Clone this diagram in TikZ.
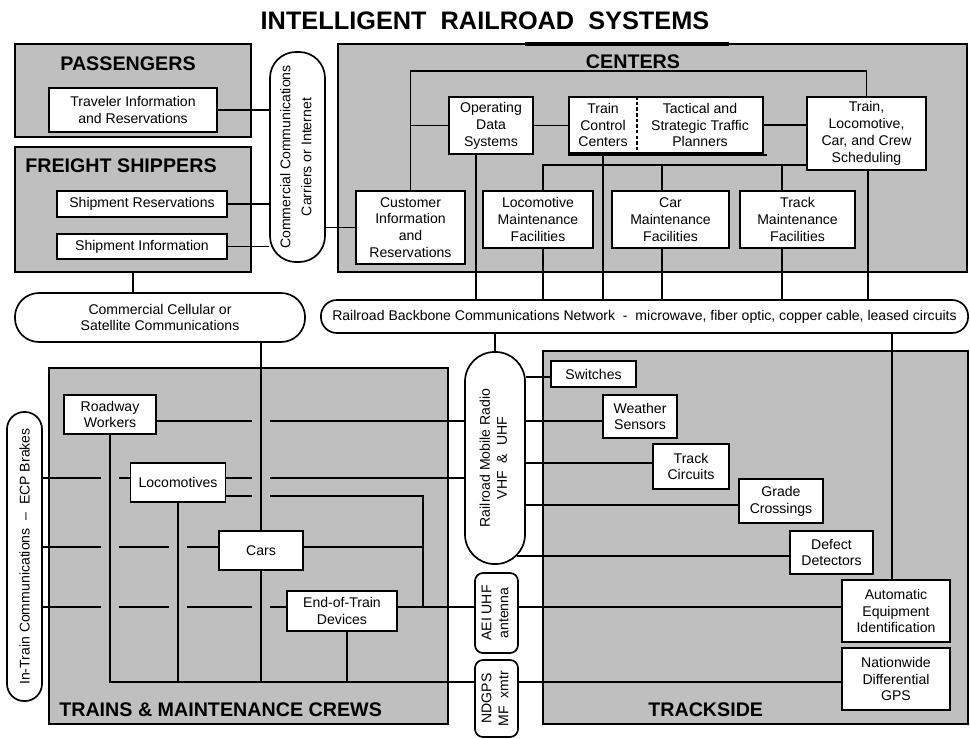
\documentclass[tikz,border=0pt]{standalone}
\usepackage{fontspec}
\setmainfont{Liberation Sans}
\usepackage{graphicx}

\begin{document}
\begin{tikzpicture}[x=0.025cm, y=-0.025cm]
    % Define styles
    \tikzstyle{region} = [rectangle, draw=black, fill=black!25, line width=1.2pt]
    \tikzstyle{hdr} = [inner sep=0pt, font=\fontsize{14}{16}\selectfont\bfseries]
    \tikzstyle{unit} = [rectangle, draw=black, fill=white, line width=1.2pt, align=center, inner sep=1pt, font=\fontsize{10}{12}\selectfont]
    \tikzstyle{txt} = [align=center, inner sep=1pt, font=\fontsize{10}{12}\selectfont]
    \tikzstyle{net} = [draw=black, fill=white, line width=1.2pt, align=center, inner sep=1pt, font=\fontsize{10}{12}\selectfont]
    \tikzstyle{link} = [line width=1.2pt]

    \useasboundingbox (0,0) rectangle (970,738);

    % Title
    \node[font=\fontsize{18}{21}\selectfont\bfseries] (title) at (485,21) {INTELLIGENT\ \ RAILROAD\ \ SYSTEMS};

    % Regions
    \node[region, minimum width=5.9cm, minimum height=2.325cm] (passengers) at (133,90.5) {};
    \node[region, minimum width=5.9cm, minimum height=3.125cm] (freight) at (133,209.5) {};
    \node[region, minimum width=15.725cm, minimum height=5.7cm] (centers) at (652.5,158) {};
    \node[region, minimum width=9.975cm, minimum height=8.9cm] (trains) at (248.5,546) {};
    \node[region, minimum width=10.625cm, minimum height=9.325cm] (trackside) at (755.5,537.5) {};
    \draw[line width=2.4pt] (525,44) -- (729,44);

    \node[hdr, anchor=base] (passengersHdr) at (128,70) {PASSENGERS};
    \node[hdr, anchor=base] (freightHdr) at (121,172) {FREIGHT SHIPPERS};
    \node[hdr, anchor=base] (centersHdr) at (633,68) {CENTERS};
    \node[hdr, anchor=base west] (trainsHdr) at (59,716) {TRAINS \& MAINTENANCE CREWS};
    \node[hdr, anchor=base west] (tracksideHdr) at (648,716) {TRACKSIDE};

    % Passengers and freight shippers
    \node[unit, minimum width=4.2cm, minimum height=1.1cm] (traveler) at (133,110) {Traveler Information\\and Reservations};
    \node[unit, minimum width=4.25cm, minimum height=0.65cm] (shipRes) at (142,204) {Shipment Reservations};
    \node[unit, minimum width=4.25cm, minimum height=0.625cm] (shipInfo) at (142,246.5) {Shipment Information};

    % Centers
    \node[unit, minimum width=2.1cm, minimum height=1.425cm] (ods) at (491,125.5) {Operating\\Data\\Systems};
    \node[unit, minimum width=4.85cm, minimum height=1.4cm] (traffic) at (666,125) {};
    \node[txt] (tcc) at (603,125) {Train\\Control\\Centers};
    \node[txt] (planners) at (700,125) {Tactical and\\Strategic Traffic\\Planners};
    \draw[line width=1.6pt, dash pattern=on 2.5pt off 1.5pt] (traffic.north -| 637,0) -- (traffic.south -| 637,0);
    \draw[link] ([yshift=-1pt]traffic.south west) -- ([xshift=2pt, yshift=-1pt]traffic.south east);
    \node[unit, minimum width=2.975cm, minimum height=1.825cm] (sched) at (866.5,133.5) {Train,\\Locomotive,\\Car, and Crew\\Scheduling};
    \node[unit, minimum width=2.725cm, minimum height=1.825cm] (cust) at (410.5,227.5) {Customer\\Information\\and\\Reservations};
    \node[unit, minimum width=2.75cm, minimum height=1.425cm] (locoMaint) at (538,219.5) {Locomotive\\Maintenance\\Facilities};
    \node[unit, minimum width=2.925cm, minimum height=1.425cm] (carMaint) at (670.5,219.5) {Car\\Maintenance\\Facilities};
    \node[unit, minimum width=2.875cm, minimum height=1.425cm] (trackMaint) at (797.5,219.5) {Track\\Maintenance\\Facilities};

    % Communications
    \node[net, rounded corners=0.65cm, minimum width=1.375cm, minimum height=5.25cm] (carriers) at (297.5,157) {\rotatebox{90}{\begin{tabular}{@{}c@{}}Commercial Communications\\[3pt]Carriers or Internet\end{tabular}}};
    \node[net, rounded corners=0.6cm, minimum width=7.25cm, minimum height=1.225cm] (cellular) at (160,317.5) {Commercial Cellular or\\Satellite Communications};
    \node[net, rounded corners=0.4cm, minimum width=16.175cm, minimum height=0.825cm] (backbone) at (644.5,316.5) {Railroad Backbone Communications Network ~-~ microwave, fiber optic, copper cable, leased circuits};
    \node[net, rounded corners=0.74cm, minimum width=1.5cm, minimum height=5.3cm] (radio) at (495,458) {\rotatebox{90}{\begin{tabular}{@{}c@{}}Railroad Mobile Radio\\VHF ~\&~ UHF\end{tabular}}};
    \node[net, rounded corners=0.2cm, minimum width=1.075cm, minimum height=2cm] (aeiAnt) at (496.5,613) {\rotatebox{90}{\begin{tabular}{@{}c@{}}AEI UHF\\antenna\end{tabular}}};
    \node[net, rounded corners=0.2cm, minimum width=1.075cm, minimum height=1.925cm] (ndAnt) at (496.5,698.5) {\rotatebox{90}{\begin{tabular}{@{}c@{}}NDGPS\\MF ~xmtr\end{tabular}}};
    \node[net, rounded corners=0.43cm, minimum width=0.875cm, minimum height=7.225cm] (inTrain) at (24.5,556.5) {\rotatebox{90}{In-Train Communications ~–~ ECP Brakes}};

    % Trains and maintenance crews
    \node[unit, minimum width=2.3cm, minimum height=0.975cm] (roadway) at (110,414.5) {Roadway\\Workers};
    \node[unit, minimum width=2.375cm, minimum height=0.975cm] (loco) at (178,482.5) {Locomotives};
    \node[unit, minimum width=2.1cm, minimum height=0.975cm] (cars) at (261,550.5) {Cars};
    \node[unit, minimum width=2.75cm, minimum height=1cm] (eot) at (342,611) {End-of-Train\\Devices};

    % Trackside
    \node[unit, minimum width=2.125cm, minimum height=0.65cm] (switches) at (593.5,374) {Switches};
    \node[unit, minimum width=1.85cm, minimum height=1.075cm] (weather) at (640,416.5) {Weather\\Sensors};
    \node[unit, minimum width=1.9cm, minimum height=1.125cm] (trackCirc) at (691,466.5) {Track\\Circuits};
    \node[unit, minimum width=2.1cm, minimum height=1.1cm] (grade) at (781,501) {Grade\\Crossings};
    \node[unit, minimum width=2.075cm, minimum height=1.075cm] (defect) at (831.5,552.5) {Defect\\Detectors};
    \node[unit, minimum width=2.7cm, minimum height=1.55cm] (aei) at (896,611) {Automatic\\Equipment\\Identification};
    \node[unit, minimum width=2.7cm, minimum height=1.55cm] (ndgps) at (896,679) {Nationwide\\Differential\\GPS};

    % Bus levels and crossing gaps
    \coordinate (busA) at (0,71);
    \coordinate (busB) at (0,165);
    \coordinate (xOds) at (476,0);
    \coordinate (xLm) at (543,0);
    \coordinate (xCm) at (662,0);
    \coordinate (xTm) at (782,0);
    \coordinate (xSch) at (868,0);
    \coordinate (xAei) at (892,0);
    \coordinate (xJoin) at (423,0);
    \coordinate (xEot) at (347,0);
    \coordinate (gapRa) at (101,0);
    \coordinate (gapRb) at (119,0);
    \coordinate (gapLa) at (169,0);
    \coordinate (gapLb) at (187,0);
    \coordinate (gapCa) at (252,0);
    \coordinate (gapCb) at (270,0);
    \coordinate (lvRoad) at (0,421);
    \coordinate (lvLocoA) at (0,478);
    \coordinate (lvLocoB) at (0,496);
    \coordinate (lvCars) at (0,547);
    \coordinate (lvEot) at (0,607);
    \coordinate (lvBus) at (0,682);
    \coordinate (lvSw) at (0,377);
    \coordinate (lvTc) at (0,463);
    \coordinate (lvGc) at (0,505);
    \coordinate (radioTail) at (517,556);

    % Passenger and shipper connections
    \draw[link] (traveler.east) -- (traveler.east -| carriers.west);
    \draw[link] (shipRes.east) -- (shipRes.east -| carriers.west);
    \draw[link] (shipInfo.east) -- (shipInfo.east -| carriers.west);
    \draw[link] (cust.west -| carriers.east) -- (cust.west);
    \draw[link] (freight.south) -- (freight.south |- cellular.north);

    % Center connections
    \draw[link] (cust.north) -- (cust.north |- busA) -- (sched.north |- busA) -- (sched.north);
    \draw[link] (ods.west) -- (ods.west -| cust.north);
    \draw[link] (ods.east) -- (ods.east -| traffic.west);
    \draw[link] (traffic.east) -- (traffic.east -| sched.west);
    \draw[link] (sched.west |- busB) -- (xLm |- busB) -- (locoMaint.north -| xLm);
    \draw[link] (xCm |- busB) -- (carMaint.north -| xCm);
    \draw[link] (xTm |- busB) -- (trackMaint.north -| xTm);

    % Down to the backbone
    \draw[link] (ods.south -| xOds) -- (backbone.north -| xOds);
    \draw[link] (locoMaint.south -| xLm) -- (backbone.north -| xLm);
    \draw[link] (traffic.south -| tcc) -- (backbone.north -| tcc);
    \draw[link] (carMaint.south -| xCm) -- (backbone.north -| xCm);
    \draw[link] (trackMaint.south -| xTm) -- (backbone.north -| xTm);
    \draw[link] (sched.south -| xSch) -- (backbone.north -| xSch);
    \draw[link] (backbone.south -| radio.north) -- (radio.north);
    \draw[link] (backbone.south -| xAei) -- (aei.north -| xAei);
    \draw[link] (cellular.south -| cars.north) -- (cars.north);

    % Train connections
    \draw[link] (roadway.east |- lvRoad) -- (gapCa |- lvRoad);
    \draw[link] (gapCb |- lvRoad) -- (radio.west |- lvRoad);
    \draw[link] (loco.east |- lvLocoA) -- (gapCa |- lvLocoA);
    \draw[link] (gapCb |- lvLocoA) -- (radio.west |- lvLocoA);
    \draw[link] (loco.east |- lvLocoB) -- (gapCa |- lvLocoB);
    \draw[link] (gapCb |- lvLocoB) -- (xJoin |- lvLocoB) -- (xJoin |- lvEot);
    \draw[link] (cars.east |- lvCars) -- (xJoin |- lvCars);
    \draw[link] (eot.east |- lvEot) -- (aeiAnt.west |- lvEot);
    \draw[link] (aeiAnt.east |- lvEot) -- (aei.west |- lvEot);

    % In-train connections
    \draw[link] (inTrain.east |- lvLocoA) -- (gapRa |- lvLocoA);
    \draw[link] (gapRb |- lvLocoA) -- (loco.west |- lvLocoA);
    \draw[link] (inTrain.east |- lvCars) -- (gapRa |- lvCars);
    \draw[link] (gapRb |- lvCars) -- (gapLa |- lvCars);
    \draw[link] (gapLb |- lvCars) -- (cars.west |- lvCars);
    \draw[link] (inTrain.east |- lvEot) -- (gapRa |- lvEot);
    \draw[link] (gapRb |- lvEot) -- (gapLa |- lvEot);
    \draw[link] (gapLb |- lvEot) -- (gapCa |- lvEot);
    \draw[link] (gapCb |- lvEot) -- (eot.west |- lvEot);

    % Bottom bus
    \draw[link] (roadway.south) -- (roadway.south |- lvBus) -- (ndAnt.west |- lvBus);
    \draw[link] (loco.south) -- (loco.south |- lvBus);
    \draw[link] (cars.south) -- (cars.south |- lvBus);
    \draw[link] (eot.south -| xEot) -- (xEot |- lvBus);
    \draw[link] (ndAnt.east |- lvBus) -- (ndgps.west |- lvBus);

    % Trackside connections
    \draw[link] (radio.east |- lvSw) -- (switches.west |- lvSw);
    \draw[link] (radio.east |- lvRoad) -- (weather.west |- lvRoad);
    \draw[link] (radio.east |- lvTc) -- (trackCirc.west |- lvTc);
    \draw[link] (radio.east |- lvGc) -- (grade.west |- lvGc);
    \draw[link] (radioTail) -- (defect.west |- radioTail);

\end{tikzpicture}
\end{document}
